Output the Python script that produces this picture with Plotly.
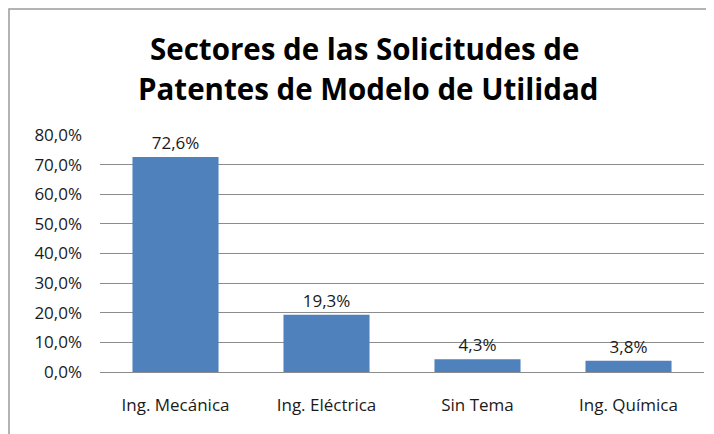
import plotly.graph_objects as go

categories = ["Ing. Mecánica", "Ing. Eléctrica", "Sin Tema", "Ing. Química"]
values = [0.726, 0.193, 0.043, 0.038]
tick_vals = [0, 0.1, 0.2, 0.3, 0.4, 0.5, 0.6, 0.7, 0.8]
title_lines = ["Sectores de las Solicitudes de", "Patentes de Modelo de Utilidad"]

# page has an 8px body margin, so the figure is sized/offset accordingly
W, H = 706, 426
L, R, T, B = 92, 10, 127, 62
pw, ph = W - L - R, H - T - B

font = "Open Sans"

fig = go.Figure(go.Bar(
    x=categories, y=values,
    marker=dict(color="#4f81bd", line=dict(width=0)),
    width=0.57,
    texttemplate="%{y:.1%}", textposition="outside",
    textfont=dict(family=font, size=17, color="#1a1a1a"),
    cliponaxis=False,
))

bx0 = (1 - L) / pw
by1 = (H - B - 1) / ph

def px_to_paper_x(px):
    return (px - L) / pw

def py_to_paper_y(py):
    return (H - B - py) / ph

annotations = [
    dict(text=title_lines[0], x=px_to_paper_x(356), y=py_to_paper_y(40),
         xref="paper", yref="paper", xanchor="center", yanchor="middle",
         showarrow=False,
         font=dict(family=font, size=29.5, color="black", weight="bold")),
    dict(text=title_lines[1], x=px_to_paper_x(360), y=py_to_paper_y(80),
         xref="paper", yref="paper", xanchor="center", yanchor="middle",
         showarrow=False,
         font=dict(family=font, size=29.5, color="black", weight="bold")),
]

fig.update_layout(
    width=W, height=H,
    margin=dict(l=L, r=R, t=T, b=B),
    paper_bgcolor="white", plot_bgcolor="white",
    separators=",.",
    showlegend=False,
    annotations=annotations,
    xaxis=dict(
        showgrid=False, showline=False, zeroline=False,
        tickfont=dict(family=font, size=17, color="#1a1a1a"),
        ticklabelstandoff=21,
    ),
    yaxis=dict(
        range=[0, 0.8], tickvals=tick_vals, tickformat=".1%",
        showgrid=True, gridcolor="#8c8c8c", gridwidth=1,
        zeroline=True, zerolinecolor="#8c8c8c", zerolinewidth=1,
        showline=False,
        tickfont=dict(family=font, size=17, color="#1a1a1a"),
        ticklabelstandoff=17,
    ),
    shapes=[dict(
        type="rect", xref="paper", yref="paper",
        x0=bx0, x1=1.5, y0=-1, y1=by1,
        line=dict(color="#9a9a9a", width=1.5),
        fillcolor="rgba(0,0,0,0)", layer="below",
    )],
)

fig.write_html("out.html")
